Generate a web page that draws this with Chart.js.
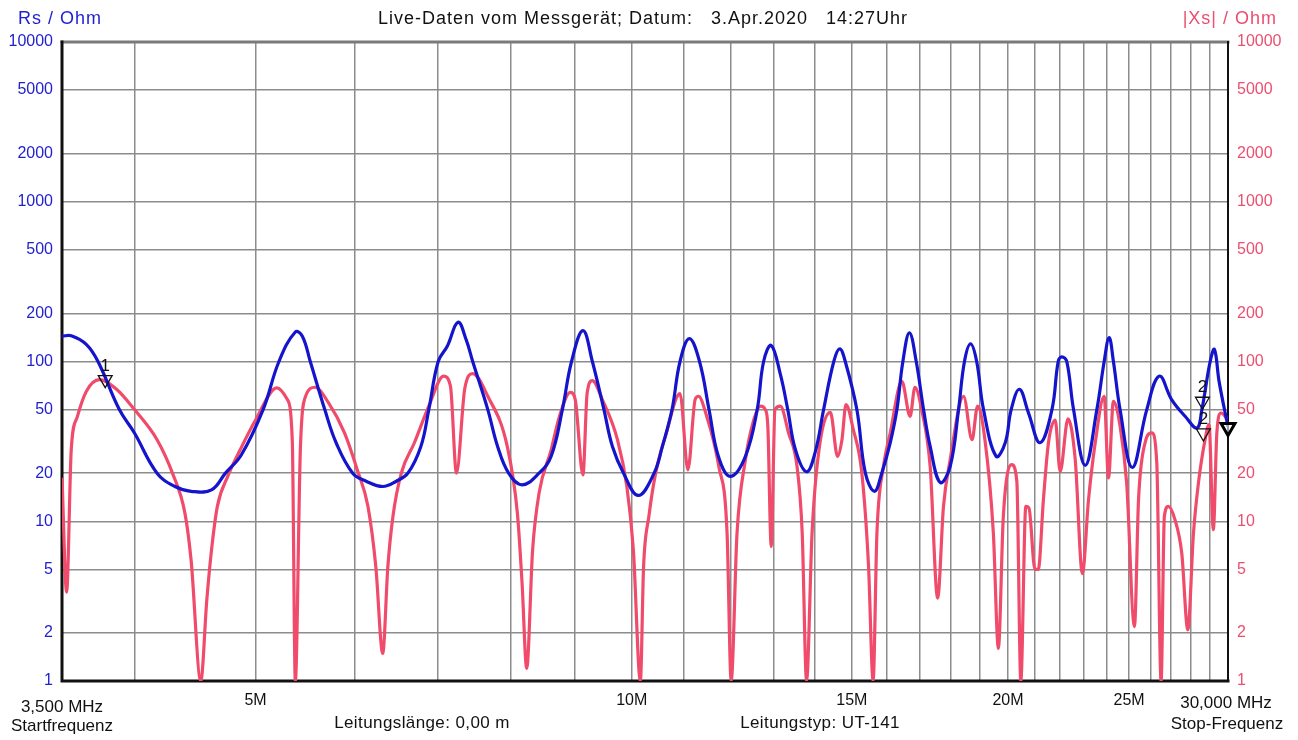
<!DOCTYPE html>
<html>
<head>
<meta charset="utf-8">
<script src="https://cdn.jsdelivr.net/npm/chart.js@4.4.1/dist/chart.umd.min.js"></script>
<style>
    html, body { margin: 0; padding: 0; background: #fff; }
    #wrap { width: 1298px; height: 740px; position: relative; }
</style>
</head>
<body>
<div id="wrap"><canvas id="chart"></canvas></div>
<script>
const FONT = "'Liberation Sans', Arial, sans-serif";
const BLUE = '#1414cc';
const RED = '#f04b6b';

// Rs (blue, left axis) - frequency in MHz, value in Ohm
const rsFreq = [3.50, 3.56, 3.66, 3.74, 3.89, 4.00, 4.17, 4.31, 4.44, 4.61, 4.73, 4.87, 5.07, 5.22, 5.38, 5.45, 5.53, 5.68, 5.80, 5.98,
    6.13, 6.32, 6.48, 6.62, 6.78, 6.88, 7.00, 7.12, 7.26, 7.37, 7.46, 7.67, 7.81, 7.97, 8.17, 8.43, 8.62, 8.80, 8.95, 9.14,
    9.30, 9.50, 9.65, 9.85, 10.12, 10.42, 10.58, 10.77, 10.93, 11.12, 11.33, 11.53, 11.73, 11.99, 12.33, 12.60, 12.75, 12.93, 13.15, 13.33,
    13.52, 13.80, 14.02, 14.24, 14.51, 14.67, 14.82, 15.14, 15.38, 15.64, 15.85, 16.10, 16.30, 16.48, 16.68, 16.89, 17.12, 17.33, 17.65, 17.98,
    18.26, 18.46, 18.67, 18.88, 19.12, 19.57, 19.90, 20.12, 20.43, 20.77, 21.22, 21.69, 21.94, 22.09, 22.29, 22.57, 23.06, 23.56, 23.88, 24.10,
    24.29, 24.59, 25.15, 25.83, 26.43, 27.04, 27.72, 28.33, 28.59, 29.03, 29.26, 29.52, 30.00];
const rsOhm = [144, 145, 128, 100, 50, 35.7, 20, 16.5, 15.4, 15.7, 20, 26, 50, 100, 153, 144, 100, 50, 31, 20,
    17.8, 16.5, 17.8, 20, 29.4, 50, 100, 125, 176, 137, 100, 50, 29.4, 20, 16.9, 20, 25.5, 50, 100, 156,
    100, 50, 29.4, 20, 14.5, 20, 29.4, 50, 100, 139, 100, 50, 25.5, 19.1, 25.5, 50, 100, 126, 83, 50,
    28, 20.4, 27, 50, 100, 120, 100, 50, 20, 15.4, 20, 31, 50, 100, 151, 100, 50, 29.4, 17.5, 22,
    50, 100, 129, 100, 50, 25.5, 31, 50, 67, 47.7, 31, 50, 100, 107, 100, 50, 22.4, 50, 100, 141,
    100, 50, 21.7, 50, 81, 57.8, 45.4, 38.4, 50, 100, 119, 74, 39];

// |Xs| (red, right axis)
const xsFreq = [3.50, 3.53, 3.56, 3.60, 3.66, 3.75, 3.87, 4.00, 4.17, 4.29, 4.39, 4.44, 4.52, 4.57, 4.61, 4.66, 4.75, 4.86, 5.00, 5.20,
    5.30, 5.35, 5.38, 5.43, 5.48, 5.58, 5.72, 5.89, 6.03, 6.15, 6.24, 6.32, 6.38, 6.44, 6.54, 6.70, 6.88, 7.07, 7.16, 7.24,
    7.35, 7.46, 7.67, 7.95, 8.10, 8.17, 8.24, 8.33, 8.43, 8.62, 8.75, 8.93, 9.01, 9.14, 9.21, 9.30, 9.47, 9.74, 9.91, 10.03,
    10.16, 10.22, 10.32, 10.45, 10.64, 10.93, 11.09, 11.24, 11.31, 11.46, 11.74, 11.92, 12.01, 12.14, 12.33, 12.52, 12.68, 12.79, 12.85, 12.93,
    13.02, 13.15, 13.35, 13.56, 13.69, 13.80, 13.94, 14.11, 14.42, 14.61, 14.73, 14.84, 15.04, 15.28, 15.47, 15.60, 15.71, 15.90, 16.10, 16.45,
    16.70, 16.85, 17.06, 17.33, 17.57, 17.76, 17.98, 18.43, 18.72, 18.91, 19.17, 19.47, 19.65, 19.83, 20.14, 20.33, 20.48, 20.67, 20.79, 21.02,
    21.15, 21.35, 21.55, 21.82, 22.02, 22.34, 22.64, 22.94, 23.20, 23.49, 23.88, 24.07, 24.29, 24.59, 24.89, 25.25, 25.44, 25.75, 26.07, 26.31,
    26.52, 26.68, 26.88, 27.21, 27.55, 27.86, 28.15, 28.41, 28.76, 28.97, 29.20, 29.39, 29.62, 30.00];
const xsOhm = [18.7, 3.6, 28, 45, 65, 77, 67, 50, 32.4, 20, 11.2, 5.7, 1, 3.2, 6.6, 12.4, 19.1, 28, 43, 68.4,
    58, 32, 1, 28, 60, 69, 55, 35.7, 21, 12.4, 5.2, 1.49, 5.2, 10.7, 20, 31, 52.5, 81, 70, 20,
    67, 84, 60.6, 29.4, 11.2, 4.1, 1.2, 6.6, 15, 28, 45, 64, 58, 19.5, 63, 76, 58, 32.4, 16.5, 6.6,
    1, 5.2, 10.7, 20, 34, 63, 21, 58, 60.6, 47.6, 22, 8.4, 1, 8.4, 24.3, 43, 52.5, 50, 39, 6.95,
    50, 52.5, 35.7, 22, 8.4, 1, 8.4, 26.8, 48, 25.5, 32.4, 53.8, 37.6, 20, 5.2, 1, 8.4, 22, 35.7, 75,
    45.4, 69, 50, 22, 3.3, 12.4, 24.3, 60.6, 32.4, 52.5, 32.4, 8.4, 1.6, 10.7, 22.6, 17.8, 1, 12.4, 12.1, 5,
    5, 13.6, 31, 43, 20.5, 43.7, 24.3, 4.7, 13.6, 31, 60.6, 18.7, 56.4, 39.3, 17.4, 2.19, 13.6, 31, 35.7, 23.2,
    1, 10.7, 12.4, 10.2, 6.3, 2.09, 8.4, 17.4, 32.4, 40.3, 8.85, 35.7, 47.6, 43];

// markers
const markerFreq = [3.79, 28.62, 28.67];
const markerOhm = [77, 56.4, 35.7];
const markerLabels = ['1', '2', '2'];
const endFreq = [30];
const endOhm = [38.6];

// axes
const xGrid = [3.5, 4, 5, 6, 7, 8, 9, 10, 11, 12, 13, 14, 15, 16, 17, 18, 19, 20, 21, 22, 23, 24, 25, 26, 27, 28, 29, 30];
const xTickLabels = { 5: '5M', 10: '10M', 15: '15M', 20: '20M', 25: '25M' };
const yTicks = [1, 2, 5, 10, 20, 50, 100, 200, 500, 1000, 2000, 5000, 10000];

const toPoints = (xs, ys) => xs.map((x, i) => ({ x, y: ys[i] }));
const setTicks = (list) => (scale) => { scale.ticks = list.map((v) => ({ value: v })); };

const frame = {
    id: 'frame',
    beforeDatasetsDraw(chart) {
        const { ctx, chartArea: a } = chart;
        ctx.save();
        ctx.lineCap = 'square';
        ctx.strokeStyle = '#7a7a7a';
        ctx.lineWidth = 3;
        ctx.beginPath(); ctx.moveTo(a.left, a.top); ctx.lineTo(a.right, a.top); ctx.stroke();
        ctx.strokeStyle = '#111';
        ctx.beginPath(); ctx.moveTo(a.left, a.top); ctx.lineTo(a.left, a.bottom); ctx.lineTo(a.right, a.bottom); ctx.stroke();
        ctx.lineWidth = 2;
        ctx.beginPath(); ctx.moveTo(a.right, a.top); ctx.lineTo(a.right, a.bottom); ctx.stroke();
        ctx.restore();
    },
    afterDatasetsDraw(chart) {
        const { ctx } = chart;
        const meta = chart.getDatasetMeta(0);
        ctx.save();
        ctx.fillStyle = '#111';
        ctx.font = '17px ' + FONT;
        ctx.textAlign = 'center';
        ctx.textBaseline = 'bottom';
        meta.data.forEach((pt, i) => ctx.fillText(markerLabels[i], pt.x, pt.y - 5));
        ctx.restore();
    },
    afterDraw(chart) {
        const { ctx } = chart;
        const text = (str, x, y, color, size, align, spacing) => {
            ctx.font = size + 'px ' + FONT;
            ctx.fillStyle = color;
            ctx.textAlign = align;
            ctx.letterSpacing = spacing || '0px';
            ctx.fillText(str, x, y);
        };
        ctx.save();
        ctx.textBaseline = 'middle';
        text('Rs / Ohm', 18, 19, '#1f1fd0', 18, 'left', '1px');
        text('Live-Daten vom Messgerät; Datum:   3.Apr.2020   14:27Uhr', 643, 19, '#111', 18, 'center', '1px');
        text('|Xs| / Ohm', 1277, 19, '#ea4f6f', 18, 'right', '1px');
        text('3,500 MHz', 62, 707, '#111', 17, 'center');
        text('Startfrequenz', 62, 726, '#111', 17, 'center');
        text('30,000 MHz', 1226, 703, '#111', 17, 'center');
        text('Stop-Frequenz', 1227, 724, '#111', 17, 'center');
        text('Leitungslänge: 0,00 m', 422, 723, '#111', 17, 'center', '0.4px');
        text('Leitungstyp: UT-141', 820, 723, '#111', 17, 'center', '0.4px');
        ctx.restore();
    }
};

new Chart(document.getElementById('chart'), {
    type: 'line',
    data: {
        datasets: [
            {
                label: 'Marker',
                data: toPoints(markerFreq, markerOhm),
                showLine: false,
                pointStyle: 'triangle',
                rotation: 180,
                pointRadius: 8,
                pointBackgroundColor: 'rgba(255,255,255,0)',
                pointBorderColor: '#111',
                pointBorderWidth: 1.3,
                yAxisID: 'y',
                order: 0
            },
            {
                label: 'Ende',
                data: toPoints(endFreq, endOhm),
                showLine: false,
                pointStyle: 'triangle',
                rotation: 180,
                pointRadius: 8,
                pointBackgroundColor: 'rgba(255,255,255,0.6)',
                pointBorderColor: '#000',
                pointBorderWidth: 3,
                clip: false,
                yAxisID: 'y',
                order: 0
            },
            {
                label: 'Rs',
                data: toPoints(rsFreq, rsOhm),
                borderColor: BLUE,
                borderWidth: 3.2,
                pointRadius: 0,
                tension: 0.4,
                yAxisID: 'y',
                order: 1
            },
            {
                label: '|Xs|',
                data: toPoints(xsFreq, xsOhm),
                borderColor: RED,
                borderWidth: 3.2,
                pointRadius: 0,
                cubicInterpolationMode: 'monotone',
                yAxisID: 'y2',
                order: 2
            }
        ]
    },
    options: {
        responsive: true,
        maintainAspectRatio: false,
        devicePixelRatio: 1,
        animation: false,
        layout: { padding: { top: 42, left: 0, right: 0, bottom: 0 } },
        plugins: { legend: { display: false }, tooltip: { enabled: false } },
        scales: {
            x: {
                type: 'logarithmic',
                min: 3.5,
                max: 30,
                afterBuildTicks: setTicks(xGrid),
                afterFit: (s) => { s.height = 59; },
                border: { display: false },
                grid: { color: '#8c8c8c', lineWidth: 1.5, drawTicks: false },
                ticks: {
                    autoSkip: false,
                    maxRotation: 0,
                    padding: 10,
                    color: '#111',
                    font: { family: FONT, size: 16 },
                    callback: (v) => xTickLabels[v] || ''
                }
            },
            y: {
                type: 'logarithmic',
                position: 'left',
                min: 1,
                max: 10000,
                afterBuildTicks: setTicks(yTicks),
                afterFit: (s) => { s.width = 62; },
                border: { display: false },
                grid: { color: '#8c8c8c', lineWidth: 1.5, drawTicks: false },
                ticks: {
                    padding: 9,
                    color: '#2222cc',
                    font: { family: FONT, size: 16 },
                    callback: (v) => String(v)
                }
            },
            y2: {
                type: 'logarithmic',
                position: 'right',
                min: 1,
                max: 10000,
                afterBuildTicks: setTicks(yTicks),
                afterFit: (s) => { s.width = 70; },
                border: { display: false },
                grid: { display: false, drawTicks: false },
                ticks: {
                    padding: 9,
                    color: '#ea4f6f',
                    font: { family: FONT, size: 16 },
                    callback: (v) => String(v)
                }
            }
        }
    },
    plugins: [frame]
});
</script>
</body>
</html>
